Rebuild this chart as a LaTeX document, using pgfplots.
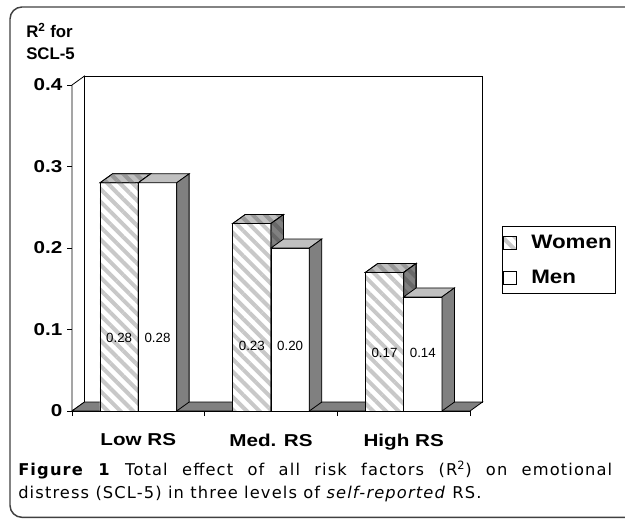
\documentclass[border=0pt]{standalone}
\usepackage{fontspec}
\setmainfont{Liberation Sans}
\newfontfamily\tickfont{Liberation Sans}[FakeStretch=1.2]
\newfontfamily\legfont{Liberation Sans}[FakeStretch=1.15]
\newfontfamily\capfont{DejaVu Sans}[LetterSpace=7]
\usepackage{pgfplots}
\pgfplotsset{compat=1.18}
\usetikzlibrary{patterns.meta}
\definecolor{stripe}{HTML}{C8C8C8}
\definecolor{topgray}{HTML}{C0C0C0}
\definecolor{sidegray}{HTML}{808080}
\definecolor{topstripe}{HTML}{989898}
\definecolor{sidestripe}{HTML}{686868}
\definecolor{framecol}{HTML}{404040}
\tikzset{
  wfront/.style={draw=black, line width=0.6pt, preaction={fill=white}, pattern={Lines[angle=-45,distance=6.7pt,line width=3pt]}, pattern color=stripe},
  wtop/.style={draw=black, line width=0.6pt, preaction={fill=topgray}, pattern={Lines[angle=-45,distance=6.7pt,line width=3pt]}, pattern color=topstripe},
  wside/.style={draw=black, line width=0.6pt, preaction={fill=sidegray}, pattern={Lines[angle=-45,distance=6.7pt,line width=3pt]}, pattern color=sidestripe},
  mfront/.style={draw=black, line width=0.6pt, fill=white},
  mtop/.style={draw=black, line width=0.6pt, fill=topgray},
  mside/.style={draw=black, line width=0.6pt, fill=sidegray},
}
\begin{document}
\begin{tikzpicture}
\useasboundingbox (0,0) rectangle (468.75pt,388.5pt);
\draw[framecol, line width=1.1pt, rounded corners=9pt] (7.5pt,0.5pt) -- (7.5pt,383.25pt) -- (480pt,383.25pt) -- (480pt,0.5pt) -- cycle;
\node[anchor=base west, inner sep=0pt, font={\fontsize{12.6}{15}\selectfont\bfseries}] at (19.5pt,360.2pt) {R\textsuperscript{2} for};
\node[anchor=base west, inner sep=0pt, font={\fontsize{12.6}{15}\selectfont\bfseries}] at (19.5pt,343.5pt) {SCL-5};
\begin{axis}[
  at={(54pt,80.25pt)}, anchor=south west, scale only axis,
  width=298.5pt, height=244.5pt,
  xmin=0, xmax=3, ymin=0, ymax=0.4, clip=false, no markers,
  axis x line*=bottom, axis y line*=left,
  axis line style={line width=0.6pt, black, -},
  tick align=outside, major tick length=3.75pt,
  tick style={line width=0.6pt, black},
  xtick={0,1,2,3}, xticklabels={,,,},
  extra x ticks={0.5,1.5,2.5},
  extra x tick labels={Low RS, Med. RS, High RS},
  extra x tick style={major tick length=0pt, tick label style={yshift=-13.5pt}},
  ytick={0,0.1,0.2,0.3,0.4}, yticklabels={0,0.1,0.2,0.3,0.4},
  tick label style={font={\fontsize{12.9}{15}\tickfont\bfseries}},
  legend cell align=left,
  legend style={at={(1.0804,0.566)}, anchor=north west, draw=black, line width=0.6pt,
    font={\fontsize{14.6}{17}\legfont\bfseries}, inner xsep=0.5pt, inner ysep=4pt, row sep=11pt,
    /tikz/every odd column/.append style={column sep=9pt}},
]
% walls and floor
\addplot[mfront, forget plot] coordinates {(0,0) (0,0.4) (0.094,0.411) (0.094,0.011)} -- cycle;
\addplot[mfront, forget plot] coordinates {(0.094,0.011) (3.094,0.011) (3.094,0.411) (0.094,0.411)} -- cycle;
\addplot[mside, forget plot] coordinates {(0,0) (3,0) (3.094,0.011) (0.094,0.011)} -- cycle;
% Women
\addplot[ybar, bar width=0.289, bar shift=-0.1445, wfront,
  legend image code/.code={\draw[wfront] (6.5pt,-4.8pt) rectangle (16.1pt,4.8pt);}]
  coordinates {(0.5,0.28) (1.5,0.23) (2.5,0.17)};
\addlegendentry{Women}
\addplot[wtop, forget plot] coordinates {(0.211,0.28) (0.5,0.28) (0.594,0.291) (0.305,0.291)} -- cycle;
\addplot[wtop, forget plot] coordinates {(1.211,0.23) (1.5,0.23) (1.594,0.241) (1.305,0.241)} -- cycle;
\addplot[wtop, forget plot] coordinates {(2.211,0.17) (2.5,0.17) (2.594,0.181) (2.305,0.181)} -- cycle;
\addplot[wside, forget plot] coordinates {(0.5,0) (0.5,0.28) (0.594,0.291) (0.594,0.011)} -- cycle;
\addplot[wside, forget plot] coordinates {(1.5,0) (1.5,0.23) (1.594,0.241) (1.594,0.011)} -- cycle;
\addplot[wside, forget plot] coordinates {(2.5,0) (2.5,0.17) (2.594,0.181) (2.594,0.011)} -- cycle;
% Men
\addplot[ybar, bar width=0.289, bar shift=0.1445, mfront,
  legend image code/.code={\draw[mfront] (6.5pt,-4.8pt) rectangle (16.1pt,4.8pt);}]
  coordinates {(0.5,0.28) (1.5,0.20) (2.5,0.14)};
\addlegendentry{Men}
\addplot[mtop, forget plot] coordinates {(0.5,0.28) (0.789,0.28) (0.883,0.291) (0.594,0.291)} -- cycle;
\addplot[mtop, forget plot] coordinates {(1.5,0.20) (1.789,0.20) (1.883,0.211) (1.594,0.211)} -- cycle;
\addplot[mtop, forget plot] coordinates {(2.5,0.14) (2.789,0.14) (2.883,0.151) (2.594,0.151)} -- cycle;
\addplot[mside, forget plot] coordinates {(0.789,0) (0.789,0.28) (0.883,0.291) (0.883,0.011)} -- cycle;
\addplot[mside, forget plot] coordinates {(1.789,0) (1.789,0.20) (1.883,0.211) (1.883,0.011)} -- cycle;
\addplot[mside, forget plot] coordinates {(2.789,0) (2.789,0.14) (2.883,0.151) (2.883,0.011)} -- cycle;
\coordinate (w1) at (axis cs:0.3555,0.0896);
\coordinate (m1) at (axis cs:0.6445,0.0896);
\coordinate (w2) at (axis cs:1.3555,0.0798);
\coordinate (m2) at (axis cs:1.6445,0.0798);
\coordinate (w3) at (axis cs:2.3555,0.0712);
\coordinate (m3) at (axis cs:2.6445,0.0712);
\end{axis}
\begin{scope}[every node/.style={font={\fontsize{10}{11}\selectfont}, inner sep=0pt}]
\node at (w1) {0.28};
\node at (m1) {0.28};
\node at (w2) {0.23};
\node at (m2) {0.20};
\node at (w3) {0.17};
\node at (m3) {0.14};
\end{scope}
\node[anchor=base west, inner sep=0pt, font={\fontsize{12.2}{14}\capfont}] at (13.5pt,32.25pt)
  {\makebox[445.5pt][s]{\textbf{Figure 1} Total effect of all risk factors (R\textsuperscript{2}) on emotional}};
\node[anchor=base west, inner sep=0pt, font={\fontsize{12.2}{14}\capfont}] at (13.5pt,15pt)
  {distress (SCL-5) in three levels of \textit{self-reported} RS.};
\end{tikzpicture}
\end{document}
